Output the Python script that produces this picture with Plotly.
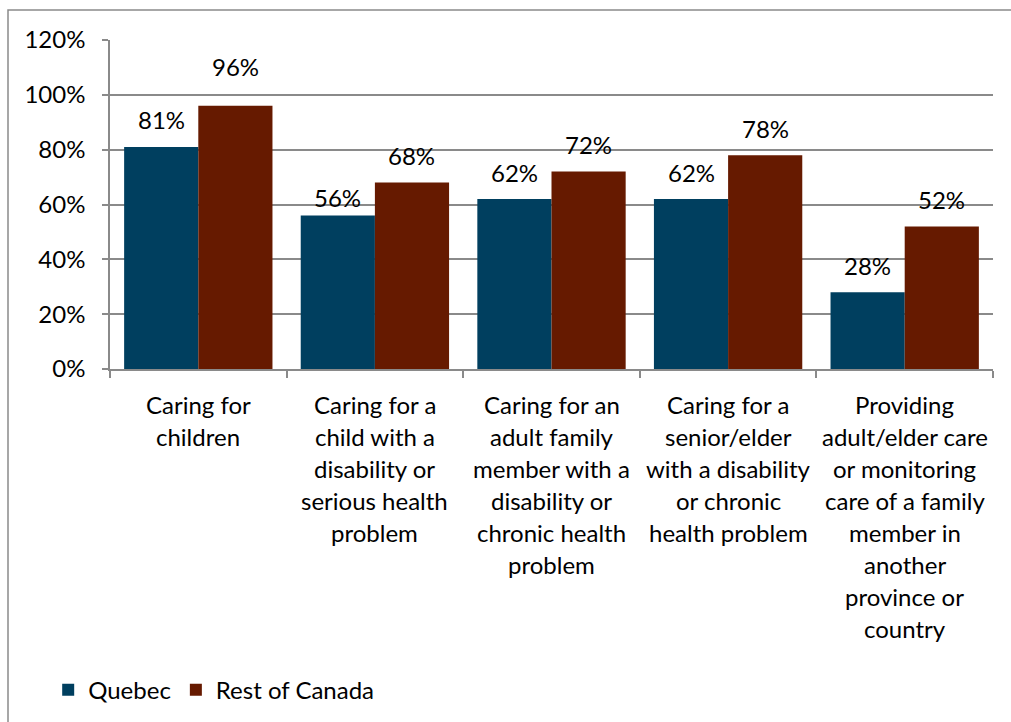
import plotly.graph_objects as go

categories = [
    "Caring for<br>children",
    "Caring for a<br>child with a<br>disability or<br>serious health<br>problem",
    "Caring for an<br>adult family<br>member with a<br>disability or<br>chronic health<br>problem",
    "Caring for a<br>senior/elder<br>with a disability<br>or chronic<br>health problem",
    "Providing<br>adult/elder care<br>or monitoring<br>care of a family<br>member in<br>another<br>province or<br>country",
]
cat_ids = ["c1", "c2", "c3", "c4", "c5"]
quebec = [81, 56, 62, 62, 28]
rest_of_canada = [96, 68, 72, 78, 52]
y_ticks = [0, 20, 40, 60, 80, 100, 120]
y_tick_labels = [f"{v}%" for v in y_ticks]

FONT = "Lato, Calibri, Carlito, sans-serif"
FS = 24
C_Q = "#003F5F"
C_R = "#661A00"

W, H = 1011, 722
L, R, T, B = 110, 18, 40, 352

fig = go.Figure()
fig.add_trace(go.Bar(name="Quebec", x=cat_ids, y=quebec, marker_color=C_Q,
                     marker_line_width=0))
fig.add_trace(go.Bar(name="Rest of Canada", x=cat_ids, y=rest_of_canada, marker_color=C_R,
                     marker_line_width=0))

annotations = []
# data labels above bars
label_shift = {("Rest of Canada", 0): 39, ("Quebec", 1): 18}
for si, (name, vals) in enumerate([("Quebec", quebec), ("Rest of Canada", rest_of_canada)]):
    for i, v in enumerate(vals):
        annotations.append(dict(
            x=cat_ids[i], y=v, xref="x", yref="y", text=f"{v}%", showarrow=False,
            xshift=(-37 if si == 0 else 37), yshift=label_shift.get((name, i), 27),
            yanchor="middle", font=dict(family=FONT, size=FS, color="#000"),
        ))
# category labels, one line at a time
for i, lab in enumerate(categories):
    for j, line in enumerate(lab.split("<br>")):
        annotations.append(dict(
            x=cat_ids[i], y=0, xref="x", yref="y", text=line, showarrow=False,
            yshift=-35 - 32 * j, yanchor="middle",
            font=dict(family=FONT, size=FS, color="#000"),
        ))

pw = W - L - R
ph = H - T - B
shapes = [dict(type="rect", xref="paper", yref="paper",
               x0=(8 - L) / pw, x1=(W + 20 - L) / pw,
               y0=-(H + 20 - T - ph) / ph, y1=(H - B - 10) / ph,
               line=dict(color="#8a8a8a", width=1.5), fillcolor="rgba(0,0,0,0)", layer="below")]

fig.update_layout(
    width=W, height=H,
    margin=dict(l=L, r=R, t=T, b=B),
    paper_bgcolor="white", plot_bgcolor="white",
    barmode="group", bargap=0.16, bargroupgap=0,
    font=dict(family=FONT, size=FS, color="#000"),
    showlegend=True,
    legend=dict(orientation="h", x=-0.07, y=-0.97, xanchor="left", yanchor="middle",
                font=dict(family=FONT, size=FS), itemwidth=30, traceorder="normal",
                bgcolor="rgba(0,0,0,0)"),
    xaxis=dict(showticklabels=False, showline=True, linecolor="#8a8a8a", linewidth=1.5,
               ticks="outside", tickson="boundaries", ticklen=7, tickcolor="#8a8a8a",
               tickwidth=1.5, showgrid=False),
    yaxis=dict(range=[0, 120], tickvals=y_ticks, ticktext=y_tick_labels,
               showline=True, linecolor="#8a8a8a", linewidth=1.5,
               ticks="outside", ticklen=6, tickcolor="#8a8a8a", tickwidth=1.5,
               showgrid=True, gridcolor="#8a8a8a", gridwidth=1.5,
               ticklabelstandoff=12, zeroline=False,
               tickfont=dict(family=FONT, size=FS)),
    annotations=annotations,
    shapes=shapes,
)

fig.write_html("out.html")
